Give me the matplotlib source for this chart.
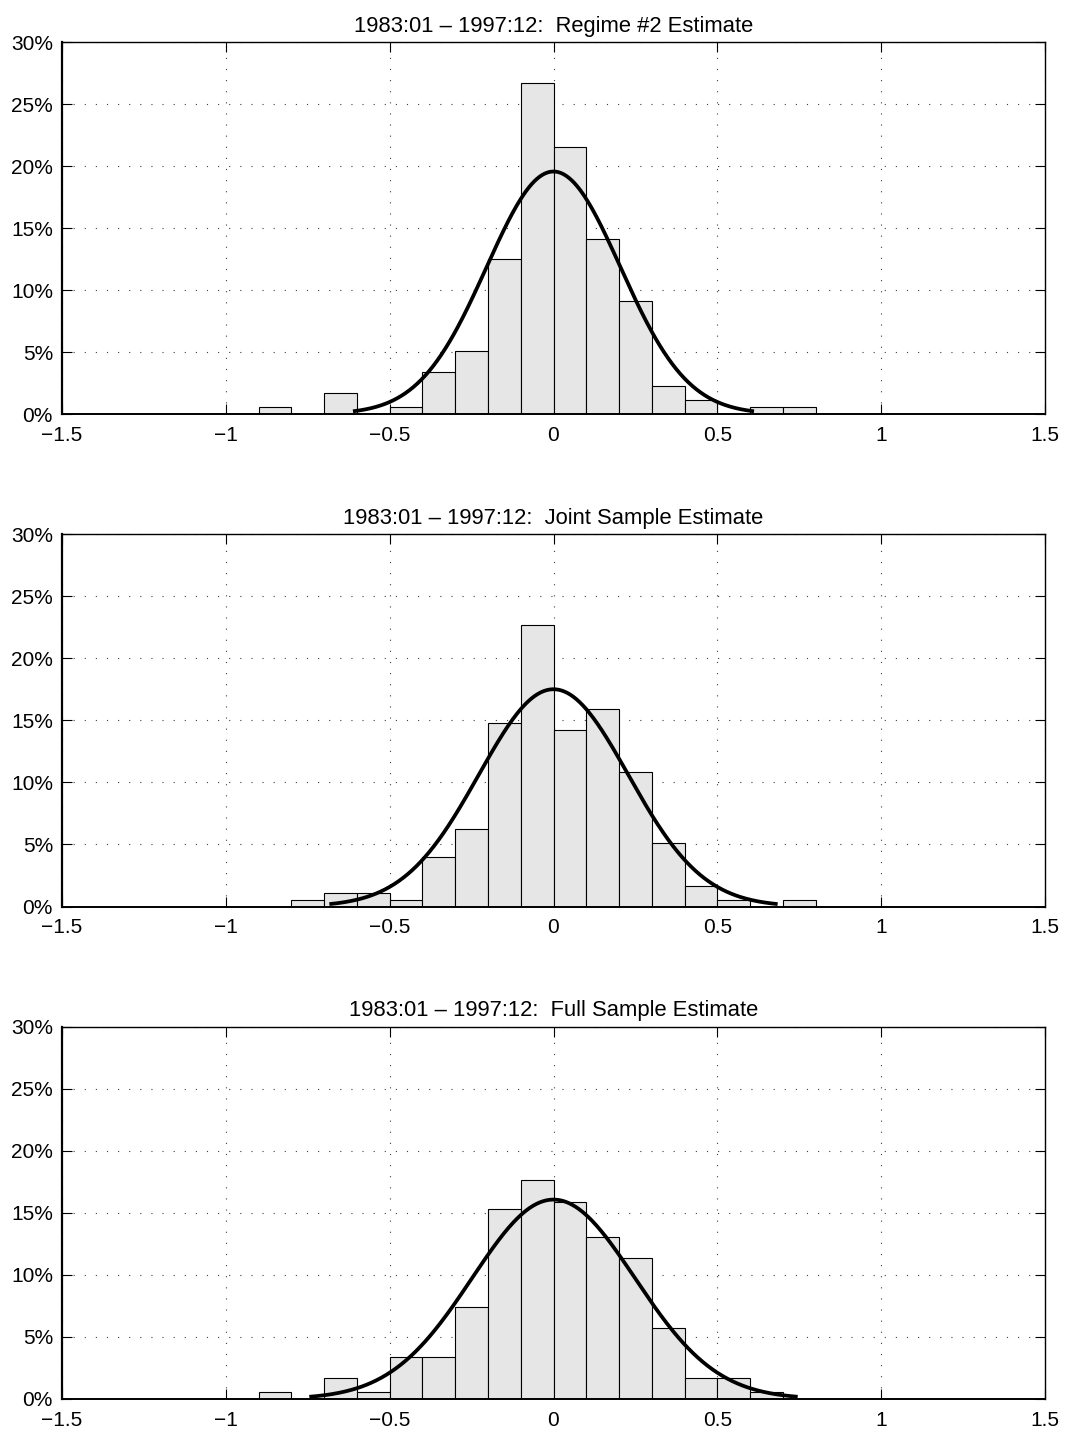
import numpy as np
import matplotlib
matplotlib.use("Agg")
import matplotlib.pyplot as plt

plt.rcParams['font.family'] = ['Liberation Sans', 'DejaVu Sans']

# ---- data ----
titles = [
    "1983:01 \u2013 1997:12:  Regime #2 Estimate",
    "1983:01 \u2013 1997:12:  Joint Sample Estimate",
    "1983:01 \u2013 1997:12:  Full Sample Estimate",
]
bin_left = np.round(np.arange(-1.5, 1.5, 0.1), 2)   # 30 bins of width 0.1
bin_width = 0.1

# percent of observations per bin (only non-empty bins listed, by left edge)
regime2 = {-0.9: 0.56, -0.7: 1.67, -0.5: 0.56, -0.4: 3.38, -0.3: 5.08,
           -0.2: 12.46, -0.1: 26.66, 0.0: 21.56, 0.1: 14.15, 0.2: 9.08,
           0.3: 2.26, 0.4: 1.10, 0.6: 0.56, 0.7: 0.56}
joint = {-0.8: 0.56, -0.7: 1.12, -0.6: 1.12, -0.5: 0.56, -0.4: 3.97,
         -0.3: 6.23, -0.2: 14.77, -0.1: 22.69, 0.0: 14.18, 0.1: 15.87,
         0.2: 10.80, 0.3: 5.08, 0.4: 1.69, 0.5: 0.56, 0.7: 0.56}
full = {-0.9: 0.56, -0.7: 1.69, -0.6: 0.56, -0.5: 3.41, -0.4: 3.41,
        -0.3: 7.38, -0.2: 15.33, -0.1: 17.62, 0.0: 15.90, 0.1: 13.08,
        0.2: 11.36, 0.3: 5.69, 0.4: 1.69, 0.5: 1.69, 0.6: 0.56}
series = [regime2, joint, full]

# fitted normal densities (mean, std. dev.)
fit_mu = [0.0, 0.0, 0.0]
fit_sigma = [0.204, 0.228, 0.2484]

xticks = [-1.5, -1, -0.5, 0, 0.5, 1, 1.5]
xticklabels = ["\u22121.5", "\u22121", "\u22120.5", "0", "0.5", "1", "1.5"]
yticks = [0, 5, 10, 15, 20, 25, 30]
yticklabels = ["%d%%" % v for v in yticks]

# ---- figure ----
W, H = 1068, 1433
fig = plt.figure(figsize=(W / 100, H / 100), dpi=100)

# axes boxes in pixels: (left, top, right, bottom)
boxes = [(62, 42, 1045, 414), (62, 534, 1045, 906.5), (62, 1026.5, 1045, 1399)]

for k, (title, data) in enumerate(zip(titles, series)):
    l, t, r, b = boxes[k]
    ax = fig.add_axes([l / W, 1 - b / H, (r - l) / W, (b - t) / H])
    heights = [data.get(float(x), 0.0) for x in bin_left]
    ax.bar(bin_left, heights, width=bin_width, align='edge',
           color='#e6e6e6', edgecolor='black', linewidth=0.8, zorder=2)
    mu, sd = fit_mu[k], fit_sigma[k]
    xs = np.linspace(mu - 3 * sd, mu + 3 * sd, 300)
    ys = 100 * bin_width * np.exp(-0.5 * ((xs - mu) / sd) ** 2) / (sd * np.sqrt(2 * np.pi))
    ax.plot(xs, ys, color='black', lw=2.7, zorder=3, solid_capstyle='butt')

    ax.set_xlim(-1.5, 1.5)
    ax.set_ylim(0, 30)
    ax.set_xticks(xticks)
    ax.set_xticklabels(xticklabels)
    ax.set_yticks(yticks)
    ax.set_yticklabels(yticklabels)
    ax.tick_params(direction='in', length=7, width=0.8, top=True, right=True,
                   labelsize=15)
    ax.tick_params(axis='x', pad=8.5)
    ax.tick_params(axis='y', pad=6.5)
    ax.set_axisbelow(True)
    ax.grid(True, color='0.25', linestyle=(0, (1, 9)), linewidth=0.8)
    for s in ax.spines.values():
        s.set_linewidth(1.0)
        s.set_zorder(4)
    ax.spines['left'].set_linewidth(1.6)
    ax.spines['bottom'].set_linewidth(1.4)
    ax.set_title(title, fontsize=15.8, pad=7.5)

fig.savefig("out.png", dpi=100)
